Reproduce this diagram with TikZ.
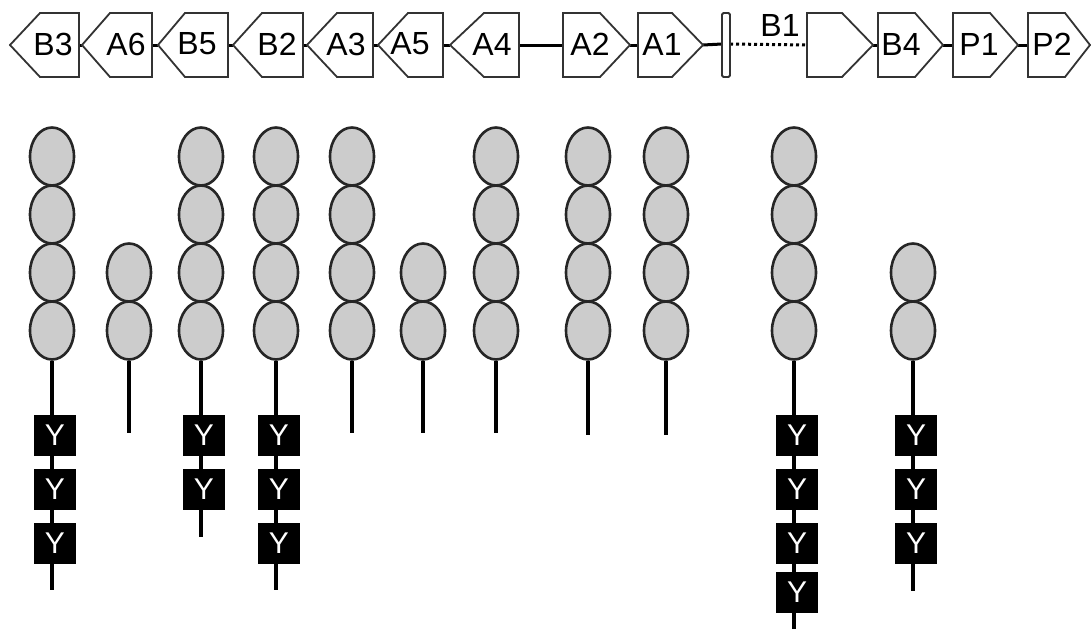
\documentclass[tikz,border=0pt]{standalone}
\usepackage{fontspec}
\setmainfont{Liberation Sans}
\usetikzlibrary{shapes.geometric,backgrounds}
\tikzset{
  genebox/.style={draw=black!80,line width=1.8pt,fill=white,line join=miter},
  genelabel/.style={inner sep=0pt,font=\fontsize{32}{36}\selectfont},
  link/.style={line width=3pt,black},
  dotlink/.style={line width=3pt,black,dash pattern=on 3pt off 3pt},
  ell/.style={ellipse,draw=black!85,line width=2.6pt,fill=black!20,minimum width=44pt,minimum height=58pt,inner sep=0pt},
  ybox/.style={rectangle,fill=black,text=white,minimum width=42pt,minimum height=41pt,inner sep=0pt,font=\fontsize{30}{34}\selectfont},
  stem/.style={line width=3.4pt,black},
}
% left-pointing box: name, tip x, corner x, right x, text x, label
\newcommand\leftgene[6]{%
  \draw[genebox] (#2,45) -- (#3,13) -- (#4,13) -- (#4,77) -- (#3,77) -- cycle;
  \coordinate (#1-l) at (#2,45);
  \coordinate (#1-r) at (#4,45);
  \node[genelabel] (#1-t) at (#5,44) {#6};
}
% right-pointing box: name, left x, corner x, tip x, text x, label
\newcommand\rightgene[6]{%
  \draw[genebox] (#2,13) -- (#3,13) -- (#4,45) -- (#3,77) -- (#2,77) -- cycle;
  \coordinate (#1-l) at (#2,45);
  \coordinate (#1-r) at (#4,45);
  \node[genelabel] (#1-t) at (#5,44) {#6};
}
% protein column: name, x, number of ellipses, number of Y boxes, stem end y
\newcommand\protcol[5]{%
  \foreach \k in {1,...,#3} {\node[ell] (#1e\k) at (#2,{330.5-58*(\k-1)}) {};}
  \foreach \k/\yy in {1/435.5,2/489.5,3/543.5,4/592} {%
    \ifnum\k>#4\relax\else\node[ybox] (#1y\k) at ({#2+3},\yy) {Y};\fi}
  \coordinate (#1end) at (#2,#5);
  \begin{scope}[on background layer]
    \draw[stem] (#1e1.south) -- (#1end);
  \end{scope}
}
\begin{document}
\begin{tikzpicture}[x=1pt,y=-1pt]
\useasboundingbox (0,0) rectangle (1091,629);
% gene row
\leftgene{B3}{10}{40}{79}{53}{B3}
\leftgene{A6}{82}{110}{152}{126}{A6}
\leftgene{B5}{158}{185}{228}{197}{B5}
\leftgene{B2}{233}{262}{303}{277}{B2}
\leftgene{A3}{307}{337}{373}{346}{A3}
\leftgene{A5}{378}{408}{443}{410}{A5}
\leftgene{A4}{450}{484}{519}{492}{A4}
\rightgene{A2}{563}{600}{630}{590}{A2}
\rightgene{A1}{638}{672}{703}{662}{A1}
\draw[genebox,rounded corners=1.5pt] (722,13) rectangle (730,77);
\coordinate (bar-l) at (722,44);
\coordinate (bar-r) at (730,44);
\rightgene{X}{807}{842}{873}{840}{}
\rightgene{B4}{878}{915}{943}{901}{B4}
\rightgene{P1}{953}{990}{1018}{979}{P1}
\rightgene{P2}{1028}{1065}{1090}{1052}{P2}
\node[genelabel] (B1) at (780,25) {B1};
\begin{scope}[on background layer]
\draw[link] (B3-r) -- (A6-l);
\draw[link] (A6-r) -- (B5-l);
\draw[link] (B5-r) -- (B2-l);
\draw[link] (B2-r) -- (A3-l);
\draw[link] (A3-r) -- (A5-l);
\draw[link] (A5-r) -- (A4-l);
\draw[link] (A4-r) -- (A2-l);
\draw[link] (A2-r) -- (A1-l);
\draw[link] (A1-r) -- (bar-l);
\draw[dotlink] (bar-r) -- (X-l);
\draw[link] (X-r) -- (B4-l);
\draw[link] (B4-r) -- (P1-l);
\draw[link] (P1-r) -- (P2-l);
\end{scope}
% protein columns
\protcol{c1}{52}{4}{3}{590}
\protcol{c2}{129}{2}{0}{433}
\protcol{c3}{201}{4}{2}{537}
\protcol{c4}{276}{4}{3}{590}
\protcol{c5}{352}{4}{0}{433}
\protcol{c6}{423}{2}{0}{433}
\protcol{c7}{496}{4}{0}{433}
\protcol{c8}{588}{4}{0}{435}
\protcol{c9}{666}{4}{0}{435}
\protcol{c10}{794}{4}{4}{629}
\protcol{c11}{913}{2}{3}{591}
\end{tikzpicture}
\end{document}
